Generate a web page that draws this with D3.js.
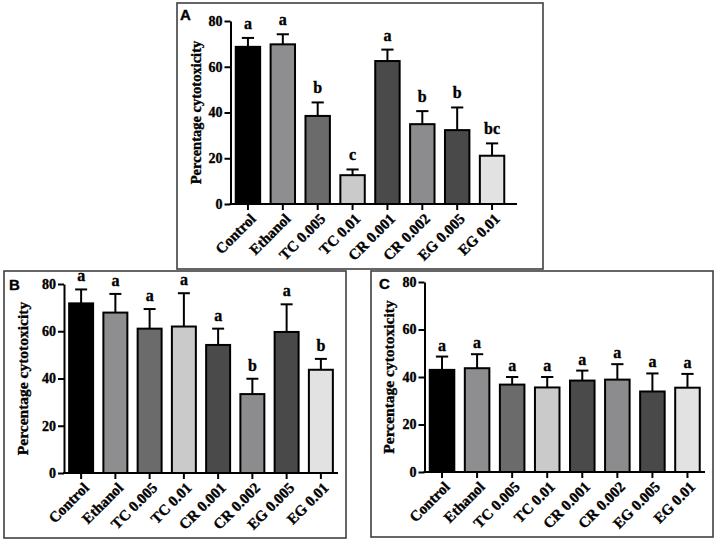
<!DOCTYPE html>
<html><head><meta charset="utf-8">
<script src="https://cdn.jsdelivr.net/npm/d3@7"></script>
<style>
body{margin:0;background:#fff;}
svg{display:block;}
text{font-family:"Liberation Serif","Times New Roman",serif;font-weight:bold;fill:#000;stroke:#000;stroke-width:0.35px;}
</style></head>
<body>
<svg id="chart" width="719" height="546"></svg>
<script>
// ---- data ----
const categories = ["Control","Ethanol","TC 0.005","TC 0.01","CR 0.001","CR 0.002","EG 0.005","EG 0.01"];
const yTicks = [0,20,40,60,80];

const valuesA = [68.7, 69.8, 38.5, 12.6, 62.5, 34.9, 32.3, 21.1];
const errorsA = [3.9, 4.4, 5.9, 2.5, 5.0, 5.7, 9.9, 5.4];
const lettersA = ["a","a","b","c","a","b","b","bc"];

const valuesB = [71.8, 67.9, 61.1, 62.0, 54.2, 33.4, 59.7, 43.7];
const errorsB = [5.9, 7.9, 8.3, 14.1, 6.9, 6.5, 11.7, 4.6];
const lettersB = ["a","a","a","a","a","b","a","b"];

const valuesC = [43.0, 43.7, 36.8, 35.6, 38.5, 38.9, 33.9, 35.5];
const errorsC = [5.6, 5.9, 3.2, 4.4, 4.2, 6.5, 7.6, 5.8];
const lettersC = ["a","a","a","a","a","a","a","a"];

const barColors = ["#000000","#8e8e91","#6b6b6b","#cacaca","#4a4a4a","#8c8c8f","#494949","#e2e2e2"];

// ---- layout (positions only) ----
const panels = [
  {id:"A", values:valuesA, errors:errorsA, letters:lettersA,
   box:[177,3,543,269], x0:230.5, x1:509.5, axisEnd:517, y0:204, y1:21, titleX:196, letterPos:[180,20], titleSize:14.5, gap:9},
  {id:"B", values:valuesB, errors:errorsB, letters:lettersB,
   box:[4,271,346,538], x0:64, x1:338, axisEnd:338, y0:473, y1:284, titleX:23, letterPos:[9,290], titleSize:15.5, gap:8},
  {id:"C", values:valuesC, errors:errorsC, letters:lettersC,
   box:[371,271,713,537], x0:424.5, x1:705, axisEnd:705, y0:472, y1:282, titleX:389, letterPos:[379,289], titleSize:15.5, gap:6}
];

const svg = d3.select("#chart");

panels.forEach(p => {
  const g = svg.append("g");
  // frame
  g.append("rect")
    .attr("x", p.box[0]).attr("y", p.box[1])
    .attr("width", p.box[2]-p.box[0]).attr("height", p.box[3]-p.box[1])
    .attr("fill","none").attr("stroke","#404040").attr("stroke-width",1.6);

  const x = d3.scaleBand().domain(categories).range([p.x0, p.x1]).paddingInner(0.3).paddingOuter(0.15);
  const y = d3.scaleLinear().domain([0,80]).range([p.y0, p.y1]);

  // bars
  g.selectAll("rect.bar").data(categories).enter().append("rect")
    .attr("class","bar")
    .attr("x", d => x(d))
    .attr("width", x.bandwidth())
    .attr("y", (d,i) => y(p.values[i]))
    .attr("height", (d,i) => y(0) - y(p.values[i]))
    .attr("fill", (d,i) => barColors[i])
    .attr("stroke","#000").attr("stroke-width",2);

  // error bars (upper only)
  const capW = x.bandwidth()*0.5;
  categories.forEach((d,i) => {
    const cx = x(d) + x.bandwidth()/2;
    const top = y(p.values[i] + p.errors[i]);
    g.append("line").attr("x1",cx).attr("x2",cx)
      .attr("y1", y(p.values[i])).attr("y2", top)
      .attr("stroke","#000").attr("stroke-width",2);
    g.append("line").attr("x1",cx-capW/2).attr("x2",cx+capW/2)
      .attr("y1", top).attr("y2", top)
      .attr("stroke","#000").attr("stroke-width",2);
    g.append("text").attr("x",cx).attr("y", top - p.gap)
      .attr("text-anchor","middle").style("font-size","16px")
      .text(p.letters[i]);
  });

  // y axis
  const yAxis = d3.axisLeft(y).tickValues(yTicks).tickSize(6).tickPadding(2).tickSizeOuter(0);
  const ya = g.append("g").attr("transform", `translate(${p.x0},0)`).call(yAxis);
  ya.selectAll("path,line").attr("stroke","#000").attr("stroke-width",2);
  ya.selectAll("text").style("font-size","14px")
    .style("font-family","'Liberation Serif','Times New Roman',serif").style("font-weight","bold")
    .attr("fill","#000").attr("stroke","#000").attr("stroke-width",0.35);

  // x axis
  const xAxis = d3.axisBottom(x).tickSize(6).tickSizeOuter(0).tickFormat("");
  const xa = g.append("g").attr("transform", `translate(0,${p.y0})`).call(xAxis);
  xa.select("path.domain").remove();
  xa.selectAll("line").attr("stroke","#000").attr("stroke-width",2);
  g.append("line").attr("x1",p.x0-1).attr("x2",p.axisEnd)
    .attr("y1",p.y0).attr("y2",p.y0).attr("stroke","#000").attr("stroke-width",2);

  // x labels rotated
  categories.forEach(d => {
    const cx = x(d) + x.bandwidth()/2;
    g.append("text")
      .attr("transform", `translate(${cx+5},${p.y0+12}) rotate(-45)`)
      .attr("text-anchor","end").attr("dy","0.35em")
      .style("font-size","15px")
      .text(d);
  });

  // y title
  g.append("text")
    .attr("transform", `translate(${p.titleX},${(p.y0+p.y1)/2}) rotate(-90)`)
    .attr("text-anchor","middle").attr("dy","0.35em")
    .style("font-size", p.titleSize + "px")
    .text("Percentage cytotoxicity");

  // panel letter
  g.append("text").attr("x",p.letterPos[0]).attr("y",p.letterPos[1])
    .style("font-family","'Liberation Sans',Arial,sans-serif")
    .style("font-size","15px").text(p.id);
});
</script>
</body></html>
